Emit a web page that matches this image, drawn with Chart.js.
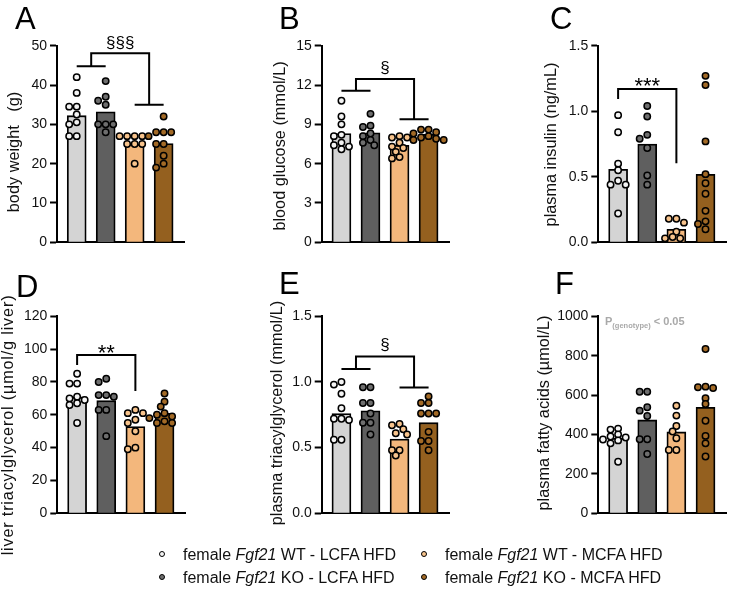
<!DOCTYPE html>
<html>
<head>
<meta charset="utf-8">
<script src="https://cdn.jsdelivr.net/npm/chart.js@4.4.1/dist/chart.umd.min.js"></script>
<style>
    body { margin: 0; width: 731px; height: 590px; position: relative; overflow: hidden; background: #fff;
           font-family: "Liberation Sans", Arial, sans-serif; color: #111; }
    canvas { position: absolute; }
    .letter { position: absolute; font-size: 31px; line-height: 31px; color: #000; }
    .leg { position: absolute; font-size: 16px; line-height: 20px; white-space: nowrap; }
    .dot { position: absolute; width: 4px; height: 4px; border: 1.6px solid #000; border-radius: 50%; }
</style>
</head>
<body>

<script>
// Fgf21 female - LCFA / MCFA HFD

// =================== DATA ===================
const genotypes = ['WT', 'KO', 'WT', 'KO'];
const diets = ['LCFA HFD', 'LCFA HFD', 'MCFA HFD', 'MCFA HFD'];

// A - body weight (g)
const bodyWeightMeans = [32.2, 33.2, 24.9, 25.1];
const bodyWeightPoints = [
    [42, 38, 34.5, 34.5, 32.5, 30.5, 30, 27, 27],
    [41, 37, 36, 35, 30, 30, 30, 28],
    [27, 27, 27, 27, 25, 25, 25, 20],
    [32, 28, 28, 28, 27, 25, 25, 22, 20, 19]
];

// B - blood glucose (mmol/L)
const glucoseMeans = [8.3, 8.35, 7.4, 8.25];
const glucosePoints = [
    [10.8, 9.6, 9.0, 8.2, 8.1, 7.6, 7.4, 7.3, 7.1],
    [9.8, 8.9, 8.8, 8.3, 8.1, 7.8, 7.6, 7.4],
    [8.1, 8.0, 8.0, 7.6, 7.3, 7.2, 6.9, 6.5, 6.4],
    [8.6, 8.6, 8.4, 8.3, 8.1, 8.0, 7.9, 7.8, 7.8]
];

// C - plasma insulin (ng/mL)
const insulinMeans = [0.557, 0.75, 0.099, 0.519];
const insulinPoints = [
    [0.97, 0.84, 0.60, 0.55, 0.47, 0.44, 0.44, 0.22],
    [1.04, 0.96, 0.82, 0.79, 0.72, 0.51, 0.44],
    [0.18, 0.18, 0.15, 0.08, 0.04, 0.03, 0.03],
    [1.27, 1.20, 0.77, 0.52, 0.45, 0.37, 0.24, 0.16, 0.14, 0.10]
];

// D - liver triacylglycerol (umol/g liver)
const liverTagMeans = [70.9, 68.6, 52.8, 60.9];
const liverTagPoints = [
    [85, 79, 79, 71, 70, 69, 67, 66, 55],
    [82, 80, 72, 72, 71, 63, 63, 47],
    [63, 61, 61, 57, 55, 50, 40, 39],
    [73, 68, 65, 61, 60, 59, 58, 56, 55, 55]
];

// E - plasma triacylglycerol (mmol/L)
const plasmaTagMeans = [0.76, 0.78, 0.566, 0.69];
const plasmaTagPoints = [
    [1.00, 0.98, 0.91, 0.80, 0.72, 0.72, 0.71, 0.56, 0.56],
    [0.96, 0.96, 0.84, 0.84, 0.76, 0.69, 0.69, 0.60],
    [0.68, 0.67, 0.64, 0.61, 0.60, 0.48, 0.48, 0.44],
    [0.89, 0.84, 0.84, 0.76, 0.76, 0.76, 0.62, 0.55, 0.55, 0.48]
];

// F - plasma fatty acids (umol/L)
const fattyAcidMeans = [381, 474, 413, 538];
const fattyAcidPoints = [
    [430, 425, 400, 390, 385, 375, 370, 355, 262],
    [617, 617, 538, 521, 494, 376, 376, 301],
    [546, 496, 443, 415, 381, 321, 321],
    [834, 643, 640, 636, 584, 555, 470, 393, 355, 288]
];

// =================== STYLE ===================
const FONT = '"Liberation Sans", Arial, sans-serif';
const barColors = ['#d4d4d4', '#5f5f5f', '#f3b77c', '#94601f'];
const pointColors = ['#f4f4f4', '#6e6e6e', '#f7c38c', '#a36a26'];
const X_MIN = -0.68, X_MAX = 3.72, AREA_W = 132, PX_PER_X = AREA_W / (X_MAX - X_MIN);
const DOT = 7.8; // point diameter in px

const panels = [
    { letter: 'A', title: 'body weight   (g)', means: bodyWeightMeans, points: bodyWeightPoints,
      yMax: 50, step: 10, dec: 0, axisX: 57, areaTop: 45.7, areaBottom: 242.3, titleX: 15, titleY: 152,
      canvasTop: 0, canvasBottom: 256, letterPos: [15, 3],
      bracket: { kind: 'groups', left: 44.8, right: 35, top: 48.05, label: '§§§', size: 17, dy: -5.5 } },
    { letter: 'B', title: 'blood glucose (mmol/L)', means: glucoseMeans, points: glucosePoints,
      yMax: 15, step: 3, dec: 0, axisX: 321.7, areaTop: 45.7, areaBottom: 242.3, titleX: 281, titleY: 146,
      canvasTop: 0, canvasBottom: 256, letterPos: [279, 3],
      bracket: { kind: 'groups', left: 11.57, right: 9.38, top: 12.46, label: '§', size: 17, dy: -6.3 } },
    { letter: 'C', title: 'plasma insulin (ng/mL)', means: insulinMeans, points: insulinPoints,
      yMax: 1.5, step: 0.5, dec: 1, axisX: 598.3, areaTop: 45.7, areaBottom: 242.3, titleX: 552, titleY: 144.5,
      canvasTop: 0, canvasBottom: 256, letterPos: [550, 3],
      bracket: { kind: 'pair', leftDown: 1.093, rightDown: 0.603, top: 1.17, label: '***', size: 22, dy: 3.9 } },
    { letter: 'D', title: 'liver triacylglycerol (µmol/g liver)', means: liverTagMeans, points: liverTagPoints,
      yMax: 120, step: 20, dec: 0, axisX: 57.3, areaTop: 316.3, areaBottom: 513.3, titleX: 9, titleY: 425,
      titleSpacing: 0.8, canvasTop: 268, canvasBottom: 572, letterPos: [16, 271],
      bracket: { kind: 'pair', leftDown: 90.4, rightDown: 74.5, top: 96.4, label: '**', size: 22, dy: 4.5 } },
    { letter: 'E', title: 'plasma triacylglycerol (mmol/L)', means: plasmaTagMeans, points: plasmaTagPoints,
      yMax: 1.5, step: 0.5, dec: 1, axisX: 321.7, areaTop: 316.3, areaBottom: 513.3, titleX: 278, titleY: 413,
      canvasTop: 268, canvasBottom: 572, letterPos: [279, 268],
      bracket: { kind: 'groups', left: 1.099, right: 0.957, top: 1.193, label: '§', size: 17, dy: -6.3 } },
    { letter: 'F', title: 'plasma fatty acids (µmol/L)', means: fattyAcidMeans, points: fattyAcidPoints,
      yMax: 1000, step: 200, dec: 0, axisX: 598.3, areaTop: 316.3, areaBottom: 513.3, titleX: 545, titleY: 413,
      canvasTop: 268, canvasBottom: 572, letterPos: [555, 268],
      note: { main: 'P', sub: '(genotype)', tail: '< 0.05', dx: 6.7, dy: 9 } }
];

// =================== HELPERS ===================

// simple beeswarm: spread overlapping points sideways (returns x offsets in category units)
function swarmOffsets(values, pxPerUnitY) {
    const placed = [];
    const offsets = new Array(values.length).fill(0);
    const order = values.map((v, i) => i).sort((a, b) => values[b] - values[a]);
    const cands = [0, -0.5, 0.5, -1, 1, -1.5, 1.5, -2, 2];
    order.forEach(i => {
        const y = values[i] * pxPerUnitY;
        for (const c of cands) {
            const x = c * DOT;
            if (placed.every(p => Math.hypot(p.x - x, p.y - y) >= DOT * 0.72)) {
                placed.push({ x, y });
                offsets[i] = x / PX_PER_X;
                break;
            }
        }
    });
    return offsets;
}

const decorPlugin = {
    id: 'panelDecor',
    afterDraw(chart, args, o) {
        const { ctx, chartArea, scales: { x, y } } = chart;
        ctx.save();

        // y title (drawn by hand so long titles are not squeezed)
        ctx.fillStyle = '#111';
        ctx.font = `16.3px ${FONT}`;
        ctx.letterSpacing = (o.titleSpacing || 0) + 'px';
        ctx.textAlign = 'center';
        ctx.textBaseline = 'middle';
        ctx.translate(o.titleX, o.titleY);
        ctx.rotate(-Math.PI / 2);
        ctx.fillText(o.title, 0, 0);
        ctx.setTransform(1, 0, 0, 1, 0, 0);
        ctx.letterSpacing = '0px';

        // brackets
        const b = o.bracket;
        if (b) {
            ctx.strokeStyle = '#000';
            ctx.lineWidth = 2;
            ctx.lineCap = 'butt';
            ctx.beginPath();
            if (b.kind === 'groups') {
                ctx.moveTo(x.getPixelForValue(0), y.getPixelForValue(b.left));
                ctx.lineTo(x.getPixelForValue(1), y.getPixelForValue(b.left));
                ctx.moveTo(x.getPixelForValue(0.5), y.getPixelForValue(b.left));
                ctx.lineTo(x.getPixelForValue(0.5), y.getPixelForValue(b.top));
                ctx.lineTo(x.getPixelForValue(2.5), y.getPixelForValue(b.top));
                ctx.lineTo(x.getPixelForValue(2.5), y.getPixelForValue(b.right));
                ctx.moveTo(x.getPixelForValue(2), y.getPixelForValue(b.right));
                ctx.lineTo(x.getPixelForValue(3), y.getPixelForValue(b.right));
            } else {
                ctx.moveTo(x.getPixelForValue(0), y.getPixelForValue(b.leftDown));
                ctx.lineTo(x.getPixelForValue(0), y.getPixelForValue(b.top));
                ctx.lineTo(x.getPixelForValue(2), y.getPixelForValue(b.top));
                ctx.lineTo(x.getPixelForValue(2), y.getPixelForValue(b.rightDown));
            }
            ctx.stroke();
            const cx = b.kind === 'groups' ? x.getPixelForValue(1.5) : x.getPixelForValue(1);
            ctx.fillStyle = '#000';
            ctx.font = `${b.size}px ${FONT}`;
            ctx.textAlign = 'center';
            ctx.textBaseline = 'alphabetic';
            ctx.fillText(b.label, cx, y.getPixelForValue(b.top) + b.dy);
        }

        // P(genotype) note
        const n = o.note;
        if (n) {
            ctx.fillStyle = '#a9a9a9';
            ctx.textAlign = 'left';
            ctx.textBaseline = 'alphabetic';
            let px = chartArea.left + n.dx;
            const base = chartArea.top + n.dy;
            ctx.font = `bold 11px ${FONT}`;
            ctx.fillText(n.main, px, base);
            px += ctx.measureText(n.main).width;
            ctx.font = `bold 7.5px ${FONT}`;
            ctx.fillText(n.sub, px, base + 2.5);
            px += ctx.measureText(n.sub).width + 3;
            ctx.font = `bold 11px ${FONT}`;
            ctx.fillText(n.tail, px, base);
        }
        ctx.restore();
    }
};

function makePanel(p) {
    const canvasLeft = Math.floor(p.titleX - 10);
    const axisW = p.axisX - canvasLeft;
    const width = Math.ceil(axisW + AREA_W + 1);
    const height = p.canvasBottom - p.canvasTop;

    const canvas = document.createElement('canvas');
    canvas.width = width;
    canvas.height = height;
    canvas.style.left = canvasLeft + 'px';
    canvas.style.top = p.canvasTop + 'px';
    canvas.style.width = width + 'px';
    canvas.style.height = height + 'px';
    document.body.appendChild(canvas);

    const letter = document.createElement('div');
    letter.className = 'letter';
    letter.textContent = p.letter;
    letter.style.left = p.letterPos[0] + 'px';
    letter.style.top = p.letterPos[1] + 'px';
    document.body.appendChild(letter);

    const pxPerUnitY = (p.areaBottom - p.areaTop) / p.yMax;
    const scatter = [];
    const scatterColors = [];
    p.points.forEach((vals, g) => {
        const offs = swarmOffsets(vals, pxPerUnitY);
        vals.forEach((v, i) => {
            scatter.push({ x: g + offs[i], y: v });
            scatterColors.push(pointColors[g]);
        });
    });

    new Chart(canvas, {
        type: 'bar',
        data: {
            datasets: [
                {
                    type: 'bar',
                    data: p.means.map((m, i) => ({ x: i, y: m })),
                    backgroundColor: barColors,
                    borderColor: '#000',
                    borderWidth: 1.8,
                    barThickness: 19,
                    order: 2
                },
                {
                    type: 'scatter',
                    data: scatter,
                    pointRadius: 3.2,
                    pointBorderWidth: 1.5,
                    pointBackgroundColor: scatterColors,
                    pointBorderColor: '#000',
                    clip: false,
                    order: 1
                }
            ]
        },
        options: {
            responsive: false,
            animation: false,
            layout: {
                padding: {
                    left: 0,
                    top: p.areaTop - p.canvasTop,
                    bottom: p.canvasBottom - p.areaBottom,
                    right: width - axisW - AREA_W
                }
            },
            plugins: {
                legend: { display: false },
                tooltip: { enabled: false },
                panelDecor: {
                    title: p.title,
                    titleX: p.titleX - canvasLeft,
                    titleY: p.titleY - p.canvasTop,
                    titleSpacing: p.titleSpacing,
                    bracket: p.bracket,
                    note: p.note
                }
            },
            scales: {
                x: {
                    type: 'linear',
                    min: X_MIN,
                    max: X_MAX,
                    offset: false,
                    ticks: { display: false },
                    grid: { display: false, drawTicks: false },
                    border: { display: true, width: 2, color: '#000' },
                    afterFit: s => { s.height = 0; }
                },
                y: {
                    min: 0,
                    max: p.yMax,
                    ticks: {
                        stepSize: p.step,
                        color: '#111',
                        padding: 3,
                        font: { family: FONT, size: 14 },
                        callback: v => Number(v).toFixed(p.dec)
                    },
                    grid: { display: true, drawOnChartArea: false, drawTicks: true, tickLength: 7, tickWidth: 2, tickColor: '#000', color: '#000' },
                    border: { display: true, width: 2, color: '#000' },
                    afterFit: s => { s.width = axisW; }
                }
            }
        },
        plugins: [decorPlugin]
    });
}

panels.forEach(makePanel);

// =================== LEGEND ===================
const legendPos = [[163, 555], [163, 578], [425, 555], [425, 578]];
genotypes.forEach((gt, i) => {
    const [cx, cy] = legendPos[i];
    const dot = document.createElement('span');
    dot.className = 'dot';
    dot.style.left = (cx - 3.6) + 'px';
    dot.style.top = (cy - 3.6) + 'px';
    dot.style.background = pointColors[i];
    document.body.appendChild(dot);

    const txt = document.createElement('div');
    txt.className = 'leg';
    txt.style.left = (cx + 20) + 'px';
    txt.style.top = (cy - 10) + 'px';
    txt.innerHTML = `female <i>Fgf21</i> ${gt} - ${diets[i]}`;
    document.body.appendChild(txt);
});
</script>
</body>
</html>
